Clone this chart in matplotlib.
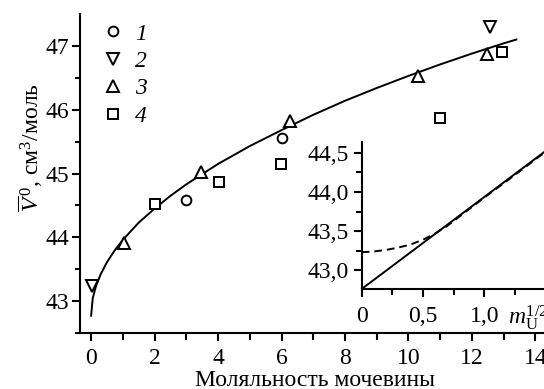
import matplotlib
matplotlib.use("Agg")
import matplotlib.pyplot as plt
from matplotlib.lines import Line2D

plt.rcParams['font.family'] = ['Liberation Serif', 'DejaVu Serif']
plt.rcParams['mathtext.fontset'] = 'custom'
plt.rcParams['mathtext.rm'] = 'Liberation Serif'
plt.rcParams['mathtext.it'] = 'Liberation Serif:italic'

# experimental points, molality of urea -> partial molar volume
m_1 = [3.0, 6.0]
v_1 = [44.58, 45.56]
m_2 = [0.02, 12.57]
v_2 = [43.23, 47.30]
m_3 = [1.05, 3.45, 6.27, 10.29, 12.46]
v_3 = [43.91, 45.03, 45.82, 46.53, 46.87]
m_4 = [2.02, 4.03, 5.98, 10.99, 12.96]
v_4 = [44.52, 44.87, 45.15, 45.87, 46.90]
series_labels = ['1', '2', '3', '4']

# smoothing curve
curve_m = [0, 0.05, 0.15, 0.3, 0.5, 0.75, 1, 1.5, 2, 2.5, 3, 4, 5, 6, 7, 8,
           9, 10, 11, 12, 13, 13.4]
curve_v = [42.77, 43.04, 43.23, 43.42, 43.61, 43.80, 43.96, 44.23, 44.45,
           44.65, 44.83, 45.15, 45.43, 45.68, 45.92, 46.14, 46.34, 46.53,
           46.71, 46.88, 47.04, 47.10]

# inset: V vs sqrt(m)
inset_solid_x = [0, 1.487]
inset_solid_v = [42.76, 44.51]
inset_dash_x = [0, 0.1, 0.2, 0.3, 0.4, 0.5, 0.6, 0.7, 0.8, 1.0, 1.2, 1.487]
inset_dash_v = [43.23, 43.24, 43.26, 43.29, 43.33, 43.39, 43.47, 43.57,
                43.69, 43.93, 44.16, 44.50]

main_xticks = [0, 2, 4, 6, 8, 10, 12, 14]
main_yticks = [43, 44, 45, 46, 47]
inset_xticks = [0, 0.5, 1.0]
inset_xlabels = ['0', '0,5', '1,0']
inset_yticks = [43.0, 43.5, 44.0, 44.5]
inset_ylabels = ['43,0', '43,5', '44,0', '44,5']

FS = 17
W, H = 544, 389

fig = plt.figure(figsize=(W / 100, H / 100), dpi=100)

ax = fig.add_axes([80 / W, 1 - 333 / H, 1 - 80 / W, (333 - 14) / H])
ax.plot(curve_m, curve_v, color='black', lw=1.4, zorder=2)
mk = dict(linestyle='none', mfc='white', mec='black', mew=1.4, zorder=3)
ax.plot(m_1, v_1, marker='o', ms=7, **mk)
ax.plot(m_2, v_2, marker='v', ms=9, **mk)
ax.plot(m_3, v_3, marker='^', ms=9, **mk)
ax.plot(m_4, v_4, marker='s', ms=7, **mk)

ax.set_xlim(-0.35, 14.27)
ax.set_ylim(42.516, 47.5)
ax.set_xticks(main_xticks)
ax.set_xticks([1, 3, 5, 7, 9, 11, 13], minor=True)
ax.set_yticks(main_yticks)
ax.set_yticks([42.5, 43.5, 44.5, 45.5, 46.5], minor=True)
ax.spines['top'].set_visible(False)
ax.spines['right'].set_visible(False)
for s in ('left', 'bottom'):
    ax.spines[s].set_linewidth(1.5)
ax.tick_params(axis='both', which='major', direction='out', width=1.5,
               length=6, labelsize=FS, pad=2)
ax.tick_params(axis='x', which='major', pad=5)
ax.tick_params(axis='x', which='minor', direction='out', width=1.5, length=5)
ax.tick_params(axis='y', which='minor', direction='out', width=1.5, length=3.5)

ax.set_xlabel('Моляльность мочевины', fontsize=FS)
ax.xaxis.set_label_coords(0.506, -0.115)
ax.set_ylabel(r'$\overline{V}^{\,0}$, см$^3$/моль', fontsize=FS)
ax.yaxis.set_label_coords(-0.075, 0.58)

handles = [Line2D([], [], marker=mkr, ms=ms, **mk)
           for mkr, ms in zip(['o', 'v', '^', 's'], [7, 9, 9, 7])]
leg = ax.legend(handles, series_labels, loc='upper left',
                bbox_to_anchor=(101 / W, 1 - 23 / H),
                bbox_transform=fig.transFigure, frameon=False,
                handlelength=1.0, handletextpad=0.45, labelspacing=0.25,
                borderpad=0, borderaxespad=0,
                prop={'size': FS, 'style': 'italic'})

# inset
ins = fig.add_axes([361.7 / W, 1 - 289.3 / H, 1 - 361.7 / W, (289.3 - 142) / H])
ins.plot(inset_solid_x, inset_solid_v, color='black', lw=1.4)
ins.plot(inset_dash_x, inset_dash_v, color='black', lw=1.4,
         linestyle=(0, (4, 2.5)))
ins.set_xlim(0, 1.487)
ins.set_ylim(42.756, 44.64)
ins.set_xticks(inset_xticks)
ins.set_xticklabels(inset_xlabels)
ins.set_xticks([0.25, 0.75, 1.25], minor=True)
ins.set_yticks(inset_yticks)
ins.set_yticklabels(inset_ylabels)
ins.set_yticks([43.25, 43.75, 44.25], minor=True)
ins.spines['top'].set_visible(False)
ins.spines['right'].set_visible(False)
for s in ('left', 'bottom'):
    ins.spines[s].set_linewidth(1.5)
ins.tick_params(axis='both', which='major', direction='out', width=1.5,
                length=6, labelsize=FS, pad=3)
ins.tick_params(axis='x', which='major', pad=6)
ins.tick_params(axis='both', which='minor', direction='out', width=1.5,
                length=4.5)
fig.text(508 / W, 1 - 318 / H, r'$m_{\mathrm{U}}^{1/2}$', fontsize=FS,
         ha='left', va='center')

fig.savefig('out.png', dpi=100)
